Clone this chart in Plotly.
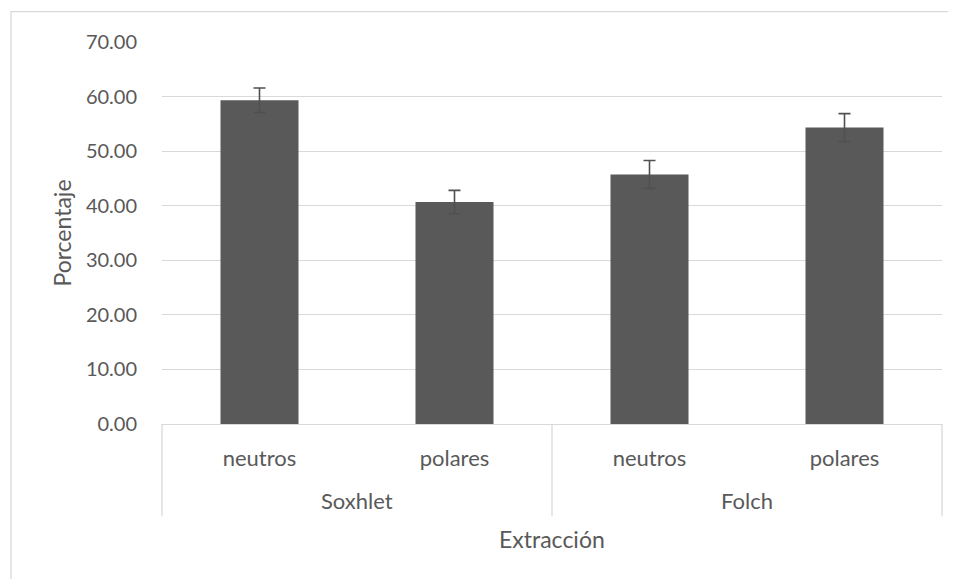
import plotly.graph_objects as go

groups = ["Soxhlet", "Soxhlet", "Folch", "Folch"]
fractions = ["neutros", "polares", "neutros", "polares"]
values = [59.31, 40.67, 45.73, 54.32]
errors = [2.25, 2.14, 2.56, 2.56]

TXT = "#595959"
GRID = "#d9d9d9"
FONT = "Lato"

# page offset of the figure (default body margin)
W, H = 956, 579
L, R, T, B = 154, 22, 33.5, 162.5
PW, PH = W - L - R, H - T - B

xpos = list(range(len(values)))

fig = go.Figure()
fig.add_trace(go.Bar(
    x=xpos,
    y=values,
    marker=dict(color="#595959", line=dict(width=0)),
    error_y=dict(type="data", array=errors, visible=True, color="#505050",
                 thickness=1.6, width=6),
    width=0.4,
))

fig.update_layout(
    width=W, height=H,
    margin=dict(l=L, r=R, t=T, b=B, autoexpand=False),
    paper_bgcolor="white", plot_bgcolor="white",
    showlegend=False,
    font=dict(family=FONT, size=20, color=TXT),
)
fig.update_yaxes(
    range=[0, 70], dtick=10, tickformat=".2f",
    showgrid=True, gridcolor=GRID, gridwidth=1.3,
    zeroline=False, showline=False,
    ticks="", ticklabelstandoff=24,
    tickfont=dict(family=FONT, size=20, color=TXT),
    title=dict(text="Porcentaje", font=dict(family=FONT, size=23, color=TXT), standoff=7),
    automargin=False,
)
fig.update_xaxes(
    range=[-0.5, len(values) - 0.5],
    tickvals=xpos, ticktext=fractions,
    showline=True, linecolor=GRID, linewidth=1.3,
    ticks="", showgrid=False, zeroline=False,
    ticklabelstandoff=14,
    tickfont=dict(family=FONT, size=22, color=TXT),
    automargin=False,
)

# group labels and dividers (second category level)
order = []
for g in groups:
    if g not in order:
        order.append(g)
bounds = [-0.5]
for g in order:
    idx = [i for i, gg in enumerate(groups) if gg == g]
    fig.add_annotation(x=sum(idx) / len(idx), xref="x", y=-77 / PH, yref="paper",
                       text=g, showarrow=False, yanchor="middle",
                       font=dict(family=FONT, size=22, color=TXT))
    bounds.append(max(idx) + 0.5)
for bnd in bounds:
    xp = (bnd + 0.5) / len(values)
    fig.add_shape(type="line", xref="paper", yref="paper", x0=xp, x1=xp,
                  y0=0, y1=-92.5 / PH, line=dict(color=GRID, width=1.3))

# x axis title
fig.add_annotation(x=0.5, xref="paper", y=-115.5 / PH, yref="paper",
                   text="Extracción", showarrow=False, yanchor="middle",
                   font=dict(family=FONT, size=23, color=TXT))

# outer chart border
fig.add_shape(type="rect", xref="paper", yref="paper",
              x0=(3 - L) / PW, x1=(W + 10 - L) / PW,
              y0=-(B + 10) / PH, y1=1 + (T - 3) / PH,
              line=dict(color=GRID, width=1.3), fillcolor="rgba(0,0,0,0)", layer="below")

fig.write_html("out.html")
